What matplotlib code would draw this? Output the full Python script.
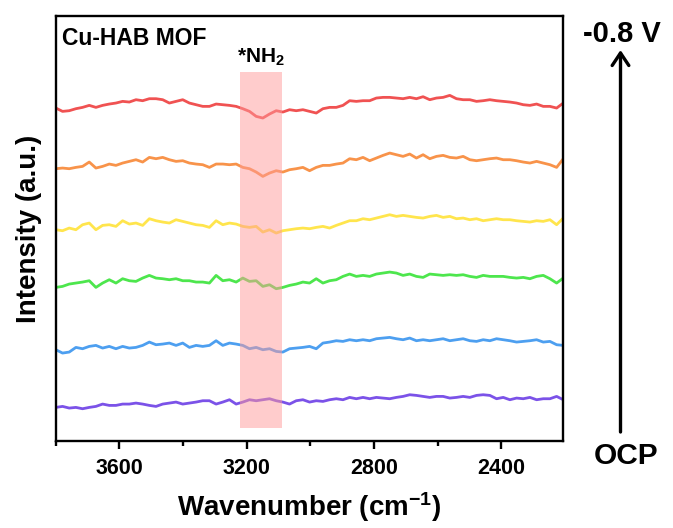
import numpy as np
import matplotlib
matplotlib.use('Agg')
import matplotlib.pyplot as plt
import matplotlib.ticker as ticker
from matplotlib.patches import Rectangle, FancyArrowPatch

plt.rcParams['font.family'] = ['Liberation Sans', 'DejaVu Sans']
plt.rcParams['font.weight'] = 'bold'
plt.rcParams['mathtext.fontset'] = 'custom'
plt.rcParams['mathtext.rm'] = 'Liberation Sans:bold'
plt.rcParams['mathtext.default'] = 'rm'

# spectra, OCP (bottom) -> -0.8 V (top), a.u.
purple = [52, 55, 50, 52, 48, 52, 55, 62, 58, 58, 62, 62, 65, 62, 58, 55, 62, 65, 68, 62,
          65, 68, 72, 72, 62, 68, 75, 62, 68, 75, 72, 75, 78, 72, 68, 62, 72, 75, 68, 72,
          70, 75, 78, 75, 82, 78, 82, 78, 82, 80, 78, 82, 85, 90, 88, 85, 82, 85, 85, 80,
          82, 85, 82, 88, 90, 88, 78, 82, 75, 80, 78, 82, 75, 78, 78, 85, 75]
blue = [45, 35, 38, 52, 48, 55, 58, 50, 55, 48, 55, 50, 52, 58, 68, 60, 62, 65, 58, 65,
        52, 58, 55, 58, 72, 58, 65, 62, 58, 48, 52, 45, 48, 40, 38, 48, 50, 52, 55, 48,
        65, 68, 72, 70, 75, 72, 75, 72, 78, 80, 82, 78, 75, 80, 72, 75, 72, 75, 78, 72,
        75, 78, 72, 70, 75, 72, 78, 75, 72, 68, 70, 72, 75, 68, 70, 60, 58]
green = [52, 55, 62, 65, 68, 72, 52, 65, 75, 65, 78, 72, 70, 80, 88, 80, 78, 75, 78, 72,
         72, 68, 68, 65, 88, 72, 75, 68, 80, 70, 72, 55, 60, 48, 52, 58, 62, 68, 65, 78,
         65, 72, 75, 85, 92, 85, 88, 85, 92, 95, 98, 95, 88, 92, 85, 82, 92, 90, 88, 90,
         88, 90, 85, 82, 88, 85, 85, 85, 82, 80, 82, 78, 85, 88, 78, 65, 80]
yellow = [45, 42, 50, 45, 60, 65, 45, 58, 60, 55, 72, 62, 65, 58, 78, 72, 68, 65, 75, 70,
          65, 60, 58, 52, 72, 60, 65, 62, 55, 52, 55, 38, 45, 35, 42, 45, 48, 50, 48, 52,
          55, 50, 58, 65, 72, 72, 78, 75, 80, 85, 90, 85, 88, 85, 82, 80, 85, 88, 82, 85,
          78, 80, 75, 78, 72, 75, 78, 75, 75, 72, 70, 68, 72, 70, 75, 60, 80]
orange = [48, 50, 48, 52, 55, 68, 50, 55, 62, 58, 65, 70, 75, 68, 82, 78, 82, 75, 70, 72,
          65, 62, 60, 52, 62, 62, 60, 62, 52, 48, 38, 25, 35, 42, 38, 45, 48, 52, 42, 52,
          58, 58, 62, 65, 78, 75, 82, 72, 80, 88, 95, 90, 85, 92, 80, 90, 78, 85, 88, 82,
          80, 85, 75, 72, 75, 78, 80, 75, 75, 72, 68, 65, 70, 65, 60, 52, 78]
red = [50, 40, 42, 48, 52, 58, 52, 58, 62, 65, 70, 68, 75, 72, 78, 78, 75, 65, 70, 75,
       65, 60, 55, 55, 62, 60, 58, 55, 48, 40, 25, 20, 32, 42, 38, 45, 42, 45, 40, 35,
       48, 52, 52, 58, 72, 70, 72, 72, 80, 82, 82, 80, 78, 82, 78, 84, 75, 80, 82, 88,
       78, 75, 75, 70, 72, 75, 72, 70, 68, 65, 60, 58, 62, 55, 55, 50, 65]

spectra = [purple, blue, green, yellow, orange, red]
colors = ['#7b52e8', '#4d9ff0', '#4de64d', '#ffe54d', '#f8934a', '#f05252']
offset = 180

band = (3220, 3090)

fig = plt.figure(figsize=(6.73, 5.28), dpi=100)
ax = fig.add_axes([0.083, 0.164, 0.754, 0.805])

for i, (s, c) in enumerate(zip(spectra, colors)):
    s = np.array(s, dtype=float)
    wn = np.linspace(3800, 2205, len(s))
    ax.plot(wn, s + i * offset, color=c, lw=2.0, zorder=2)

ax.add_patch(Rectangle((band[1], -9), band[0] - band[1], 1068,
                       facecolor='#ff9a9a', alpha=0.5, lw=0, zorder=3))

ax.set_xlim(3800, 2205)
ax.set_ylim(-50, 1225)
ax.xaxis.set_major_locator(ticker.MultipleLocator(400))
ax.xaxis.set_minor_locator(ticker.MultipleLocator(200))
ax.set_yticks([])
ax.tick_params(which='major', direction='out', length=6, width=1.7,
               labelsize=15.5, pad=6)
ax.tick_params(which='minor', direction='out', length=3.5, width=1.7)
for lab in ax.get_xticklabels():
    lab.set_fontweight('bold')
for sp in ax.spines.values():
    sp.set_linewidth(1.7)

ax.set_xlabel('Wavenumber (cm$^{-1}$)', fontsize=20, fontweight='bold', labelpad=8)
ax.set_ylabel('Intensity (a.u.)', fontsize=20, fontweight='bold', labelpad=10)

ax.text(0.012, 0.975, 'Cu-HAB MOF', transform=ax.transAxes, fontsize=16.5,
        fontweight='bold', va='top', ha='left')
ax.text(3155, 1070, '*NH$_2$', fontsize=15, fontweight='bold', ha='center', va='bottom')

fig.text(0.924, 0.936, '-0.8 V', fontsize=21, fontweight='bold', ha='center', va='center')
fig.text(0.930, 0.137, 'OCP', fontsize=21.5, fontweight='bold', ha='center', va='center')
fig.patches.append(FancyArrowPatch(
    (0.922, 1 - 432 / 528), (0.922, 1 - 50 / 528), transform=fig.transFigure,
    arrowstyle='->,head_length=6,head_width=4', lw=2.4, color='black',
    mutation_scale=1.5, shrinkA=0, shrinkB=0))

fig.savefig('out.png', dpi=100)
